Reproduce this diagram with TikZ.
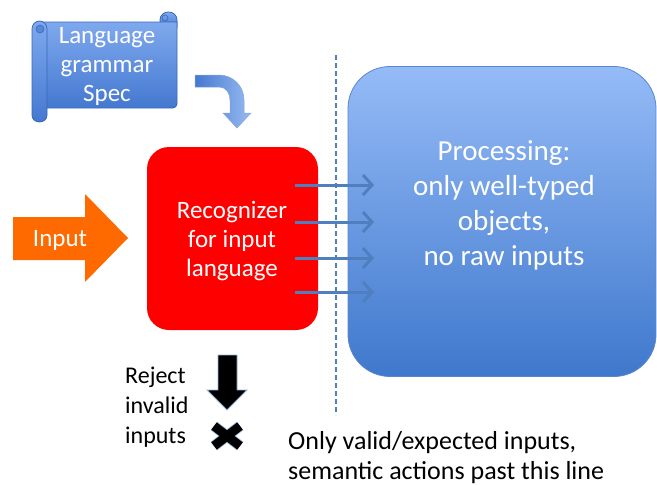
\documentclass[tikz,border=0pt]{standalone}
\usepackage{fontspec}
\setmainfont{Carlito}
\usetikzlibrary{arrows.meta,calc}
\definecolor{boxtop}{HTML}{95BBF7}
\definecolor{boxbot}{HTML}{3F78CC}
\definecolor{boxline}{HTML}{5A86CF}
\definecolor{scrolltop}{HTML}{7FA9EE}
\definecolor{scrollbot}{HTML}{4478D0}
\definecolor{scrollline}{HTML}{3A68B8}
\definecolor{steel}{HTML}{4F7FBF}
\definecolor{orangearrow}{HTML}{FF6A00}
\definecolor{recred}{HTML}{FF0000}
\tikzset{
  txt/.style={font=\fontsize{25}{29}\selectfont, inner sep=0pt},
  smalltxt/.style={font=\fontsize{24}{30}\selectfont, inner sep=0pt},
  noteTxt/.style={font=\fontsize{26}{30}\selectfont, inner sep=0pt},
  bigtxt/.style={font=\fontsize{29}{35}\selectfont, inner sep=0pt},
  flow/.style={draw=steel, line width=3pt, -{Straight Barb[length=9pt,width=20pt]}},
  sepline/.style={draw=steel, line width=2pt, dash pattern=on 5pt off 3pt},
  scrollpart/.style={top color=scrolltop, bottom color=scrollbot, draw=scrollline, line width=0.8pt},
}
\begin{document}
\begin{tikzpicture}[x=1pt,y=-1pt]
\useasboundingbox (0,0) rectangle (657,485);

% scroll
\path[scrollpart] (160,28) -- (160,20) .. controls (160,15) and (164,12) .. (168.5,12) .. controls (173,12) and (177,15) .. (177,20) -- (177,28) -- cycle;
\path[scrollpart] (40,22) -- (177,22) -- (177,104) .. controls (177,106) and (175,108) .. (173,108) -- (40,108) -- cycle;
\path[scrollpart] (32,29) .. controls (32,25) and (35,21) .. (39.5,21) .. controls (44,21) and (47,25) .. (47,29) -- (47,115) .. controls (47,119) and (44,122) .. (39.5,122) .. controls (35,122) and (32,119) .. (32,115) -- cycle;
\draw[scrollline, fill=scrollbot!70!scrolltop, line width=0.6pt] (40,29) circle (4);
\draw[scrollline, line width=0.6pt] (165,18) circle (3);
\node[txt, text=white, align=center] (spec) at (107,66) {Language\\grammar\\Spec};

% curved arrow
\path[left color=scrollbot, right color=scrolltop!80!white, draw=scrollline!60, line width=0.5pt]
  (195,75) -- (219,75) .. controls (233,75) and (244,86) .. (244,100) -- (244,113) -- (251,113) -- (237,128) -- (223,113) -- (230,113) -- (230,100) .. controls (230,93) and (226,87) .. (219,87) -- (195,87) -- cycle;

% blue processing box
\node[draw=boxline, line width=0.8pt, top color=boxtop, bottom color=boxbot, rounded corners=42pt,
      minimum width=308pt, minimum height=310pt, inner sep=0pt] (proc) at (502,221.5) {};
\node[bigtxt, text=white, align=center] (proctext) at (504,205) {Processing:\\only well-typed\\objects,\\no raw inputs};

% red recognizer box
\node[fill=recred, rounded corners=22pt, minimum width=171pt, minimum height=183pt, inner sep=0pt] (rec) at (232.5,238.5) {};
\node[txt, text=white, align=center] (rectext) at (232,241) {Recognizer\\for input\\language};

% orange input arrow
\path[fill=orangearrow] (13,217) -- (85,217) -- (85,194) -- (128,238) -- (85,282) -- (85,260) -- (13,260) -- cycle;
\node[txt, text=white] (input) at (60,240) {Input};

% dashed separator
\coordinate (dtop) at (336,55);
\coordinate (dbot) at (336,415);
\draw[sepline] (dtop) -- (dbot);

% four flow arrows
\foreach \i/\y in {1/185,2/222,3/258,4/292} {
  \coordinate (s\i) at (295,\y);
  \coordinate (e\i) at (374,\y);
  \draw[flow] (s\i) -- (e\i);
}

% reject arrow and cross
\path[fill=black, draw=steel!60, line width=0.8pt] (218,355) -- (237,355) -- (237,390) -- (247,390) -- (227,410) -- (207,390) -- (218,390) -- cycle;
\coordinate (xc) at (227,436);
\draw[steel!60, line width=10.6pt] ($(xc)+(-13,-10)$) -- ($(xc)+(13,10)$) ($(xc)+(-13,10)$) -- ($(xc)+(13,-10)$);
\draw[black, line width=9pt] ($(xc)+(-13,-10)$) -- ($(xc)+(13,10)$) ($(xc)+(-13,10)$) -- ($(xc)+(13,-10)$);

\node[smalltxt, align=left, anchor=west] (reject) at (125,407) {Reject\\invalid\\inputs};
\node[noteTxt, align=left, anchor=west] (valid) at (288,458) {Only valid/expected inputs,\\semantic actions past this line};
\end{tikzpicture}
\end{document}
